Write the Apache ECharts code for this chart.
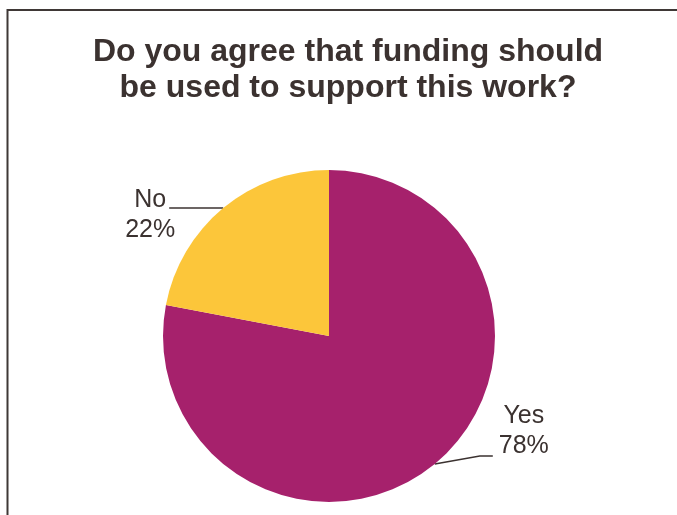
<!DOCTYPE html>
<html>
<head>
<meta charset="utf-8">
<script src="https://cdn.jsdelivr.net/npm/echarts@6/dist/echarts.min.js"></script>
<style>
html,body{margin:0;padding:0;background:#fff;}
#chart{width:677px;height:515px;}
</style>
</head>
<body>
<div id="chart"></div>
<script>
var titleText = 'Do you agree that funding should\nbe used to support this work?';
var categories = ['Yes', 'No'];
var values = [78, 22];
var percentLabels = ['78%', '22%'];
var colors = ['#A6216C', '#FCC63A'];

var textColor = '#3B3230';
var chart = echarts.init(document.getElementById('chart'), null, {renderer: 'canvas'});

var data = categories.map(function (c, i) {
  return {name: c, value: values[i], itemStyle: {color: colors[i]}};
});

chart.setOption({
  animation: false,
  backgroundColor: '#ffffff',
  graphic: [{
    type: 'rect',
    shape: {x: 7.5, y: 10, width: 720, height: 600},
    style: {fill: 'none', stroke: '#3f3836', lineWidth: 2},
    silent: true
  }],
  title: {
    text: titleText,
    left: 343,
    top: 29,
    textAlign: 'center',
    textStyle: {
      fontFamily: 'Liberation Sans, Arial, sans-serif',
      fontSize: 32,
      fontWeight: 'bold',
      color: textColor,
      lineHeight: 36
    }
  },
  series: [{
    type: 'pie',
    center: [329, 336],
    radius: 166,
    startAngle: 90,
    clockwise: true,
    data: data,
    label: {
      show: true,
      position: 'outside',
      formatter: function (p) { return p.name + '\n' + percentLabels[p.dataIndex]; },
      fontFamily: 'Liberation Sans, Arial, sans-serif',
      fontSize: 25,
      lineHeight: 30,
      color: textColor,
      align: 'center'
    },
    labelLine: {
      show: true,
      length: 20,
      length2: 20,
      lineStyle: {color: textColor, width: 1.5}
    },
    labelLayout: function (p) {
      var s = p.labelLinePoints ? p.labelLinePoints[0] : null;
      if (!s) return {};
      if (p.dataIndex === 1) {
        return {
          x: s[0] - 73, y: s[1] + 7, align: 'center', verticalAlign: 'middle',
          labelLinePoints: [[s[0], s[1]], [s[0] - 27, s[1]], [s[0] - 54, s[1]]]
        };
      }
      return {
        x: s[0] + 89, y: s[1] - 33, align: 'center', verticalAlign: 'middle',
        labelLinePoints: [[s[0], s[1]], [s[0] + 45, s[1] - 8], [s[0] + 58, s[1] - 8]]
      };
    },
    emphasis: {disabled: true}
  }]
});
</script>
</body>
</html>
